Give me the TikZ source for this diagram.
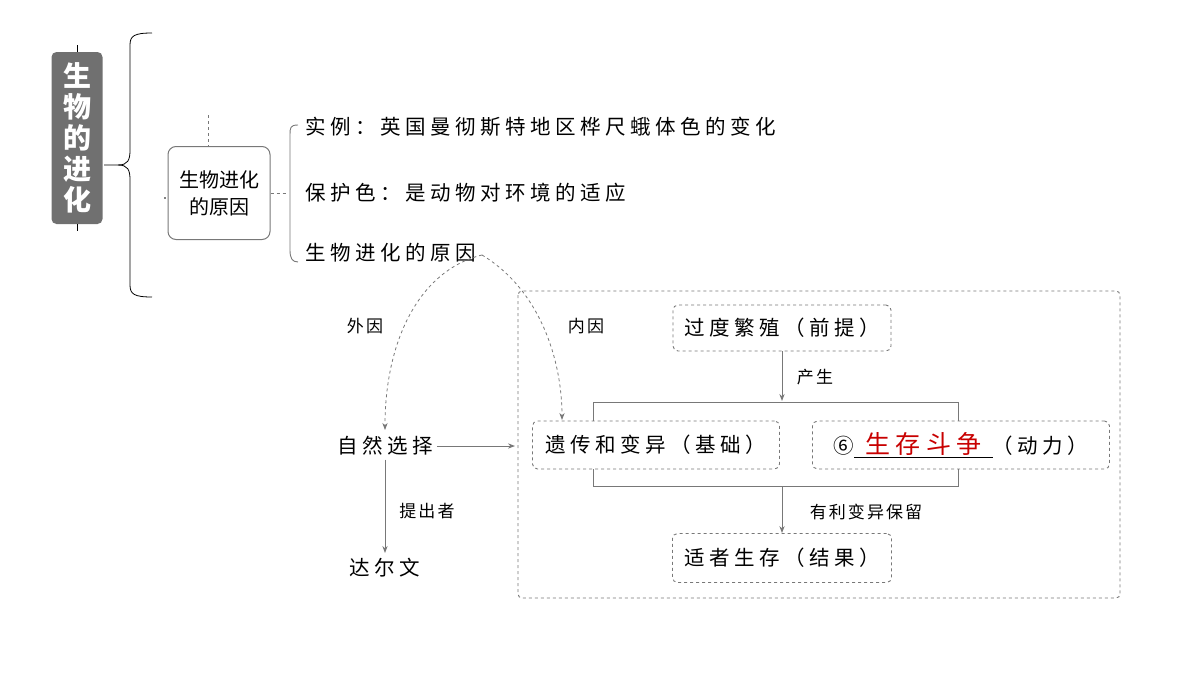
\documentclass[tikz,border=0pt]{standalone}
\usepackage{fontspec}
\setmainfont{Noto Sans CJK SC}
\usetikzlibrary{arrows.meta}
\definecolor{titlegray}{RGB}{112,112,112}
\definecolor{linegray}{RGB}{120,120,120}
\definecolor{answerred}{RGB}{200,0,0}
\newcommand{\widetxt}{\fontsize{20.5}{24}\selectfont\addfontfeature{LetterSpace=22}}

\begin{document}
\begin{tikzpicture}[x=1pt,y=-1pt,
        dbox/.style={draw=linegray, dashed, line width=0.9pt, rounded corners=5pt, inner sep=0pt, font=\widetxt},
        arr/.style={draw=linegray, line width=1pt, -{Stealth[length=7pt]}},
        txt/.style={font=\widetxt, inner sep=0pt},
        lbl/.style={font=\fontsize{17}{20}\selectfont\addfontfeature{LetterSpace=12}}]
            \useasboundingbox (0,0) rectangle (1200,675);
            % title block
            \node[fill=titlegray, rounded corners=5pt, minimum width=51pt, minimum height=172pt,
                  text=white, font=\fontsize{28}{31}\selectfont\bfseries, align=center]
                 (title) at (77,138) {生\\物\\的\\进\\化};
            \draw[black] (77,45) -- (77,52) (77,224) -- (77,231);
            \draw[black, thick] (104,165) -- (118,165) .. controls (128,165) and (130,160) .. (130,150)
                 -- (130,45) .. controls (130,36) and (134,33) .. (152,33);
            \draw[black, thick] (118,165) .. controls (128,165) and (130,170) .. (130,180)
                 -- (130,285) .. controls (130,294) and (134,297) .. (152,297);
            % second level
            \node[draw=linegray, line width=1pt, rounded corners=8pt, minimum width=102pt, minimum height=93pt,
                  font=\fontsize{20}{27}\selectfont, align=center] (cause) at (219,193) {生物进化\\的原因};
            \draw[linegray, dashed, line width=1pt] (208,115) -- (208,147);
            \fill (165,198) circle (0.8pt);
            \draw[linegray, dashed, line width=0.8pt] (cause.east) -- (288,193);
            \draw[linegray, line width=0.9pt] (298,125) .. controls (290,125) and (290,128) .. (290,135) -- (290,250)
                 .. controls (290,258) and (292,262) .. (298,262);
            \node[txt, anchor=west] (ex)   at (305,127) {实例：英国曼彻斯特地区桦尺蛾体色的变化};
            \node[txt, anchor=west] (prot) at (305,193) {保护色：是动物对环境的适应};
            \node[txt, anchor=west] (why)  at (305,253) {生物进化的原因};
            % selection
            \node[txt] (sel) at (385,446) {自然选择};
            \node[txt] (darwin) at (385,568) {达尔文};
            \coordinate (src) at (482,255);
            \draw[arr, dashed, line width=0.8pt] (src) .. controls (420,270) and (385,340) .. (385,430);
            \draw[arr, dashed, line width=0.8pt] (src) .. controls (540,290) and (562,360) .. (562,420);
            \node[lbl] at (365,326) {外因};
            \node[lbl] at (586,326) {内因};
            \draw[arr] (sel.east) ++(4,0) -- (515,446);
            \draw[arr] (sel.south) ++(0,4) -- (385,553);
            \node[lbl] at (427,511) {提出者};
            % inner mechanism
            \draw[linegray, dashed, line width=0.9pt, rounded corners=4pt] (518,291) rectangle (1120,598);
            \node[dbox, minimum width=218pt, minimum height=46pt] (over) at (782,328) {过度繁殖（前提）};
            \node[dbox, minimum width=247pt, minimum height=48pt] (gene) at (656,445) {遗传和变异（基础）};
            \node[dbox, minimum width=297pt, minimum height=48pt]
                 (fight) at (961,445) {⑥\underline{\textcolor{answerred}{\fontsize{25}{28}\selectfont\ 生存斗争\ }}（动力）};
            \node[dbox, minimum width=219pt, minimum height=49pt] (fit) at (782,558) {适者生存（结果）};
            \draw[linegray, line width=1pt] (593,421) |- (958,402) -- (958,421);
            \draw[linegray, line width=1pt] (593,469) |- (958,486) -- (958,469);
            \draw[arr] (over.south) -- (782,401);
            \draw[arr] (782,486) -- (fit.north);
            \node[lbl] at (815,377) {产生};
            \node[lbl] at (866,512) {有利变异保留};
        \end{tikzpicture}
\end{document}
